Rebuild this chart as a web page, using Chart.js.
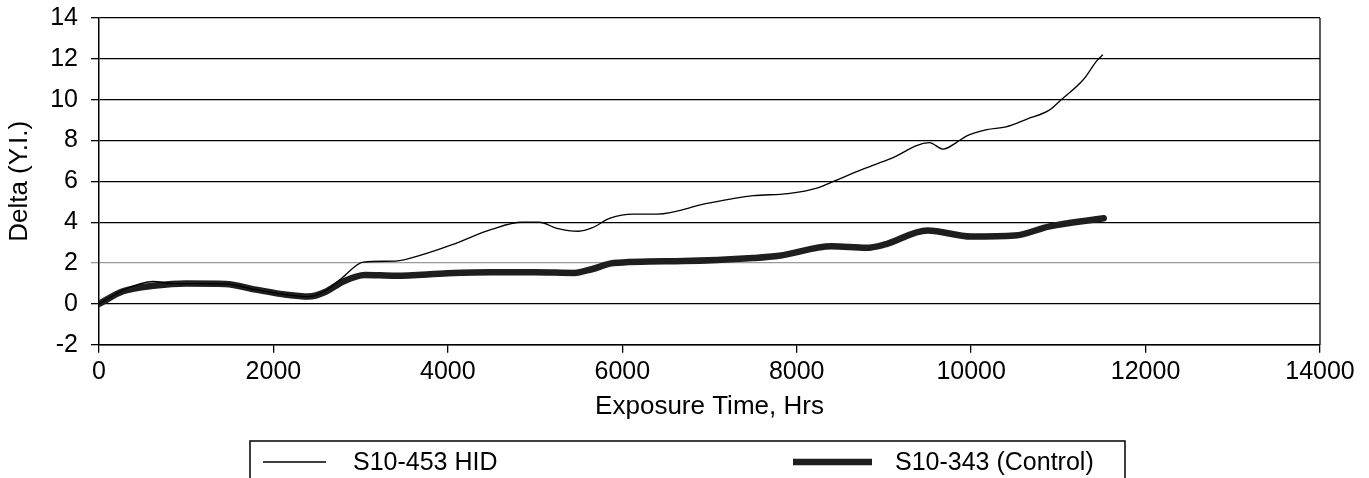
<!DOCTYPE html>
<html>
<head>
<meta charset="utf-8">
<title>Delta Y.I. vs exposure time</title>
<script src="https://cdn.jsdelivr.net/npm/chart.js@4/dist/chart.umd.min.js"></script>
<style>
  html, body { margin: 0; padding: 0; background: #fff; }
  #wrap { position: relative; width: 1369px; height: 478px; }
</style>
</head>
<body>
<div id="wrap"><canvas id="chart"></canvas></div>
<script>
// Values (hours, delta Y.I.)
const hidHours = [0, 300, 620, 850, 1100, 1450, 1800, 2150, 2400, 2600, 2780, 3030, 3400, 3700, 4050,
  4500, 4850, 5050, 5250, 5500, 5650, 5860, 6130, 6400, 6970, 7500, 7900, 8250, 8420, 8760,
  9070, 9520, 9680, 9830, 9950, 10180, 10400, 10640, 10900, 11020, 11290, 11440, 11510];
const hidDelta = [0, 0.72, 1.1, 1.0, 1.0, 0.98, 0.7, 0.45, 0.36, 0.65, 1.25, 2.05, 2.1, 2.4, 2.9,
  3.65, 4.0, 4.0, 3.7, 3.56, 3.72, 4.2, 4.4, 4.4, 4.92, 5.3, 5.4, 5.7, 6.0, 6.6,
  7.1, 7.9, 7.58, 7.9, 8.23, 8.53, 8.67, 9.05, 9.5, 9.95, 11.0, 11.9, 12.2];

const ctrlHours = [0, 275, 650, 1000, 1450, 1800, 2150, 2400, 2600, 2800, 3050, 3400, 4000, 4500,
  5000, 5450, 5650, 5900, 6700, 7500, 7800, 8400, 8800, 9000, 9500, 10000, 10500, 10900, 11520];
const ctrlDelta = [0, 0.62, 0.9, 1.0, 0.98, 0.7, 0.45, 0.36, 0.6, 1.1, 1.42, 1.38, 1.5, 1.55,
  1.55, 1.52, 1.7, 2.0, 2.1, 2.25, 2.36, 2.82, 2.75, 2.9, 3.6, 3.3, 3.35, 3.8, 4.2];

const seriesNames = ["S10-453 HID", "S10-343 (Control)"];
const xRange = [0, 14000, 2000];
const yRange = [-2, 14, 2];

const FONT = "'Liberation Sans', Arial, sans-serif";
Chart.defaults.font.family = FONT;
Chart.defaults.color = "#000";

const toPoints = (xs, ys) => xs.map((x, i) => ({ x, y: ys[i] }));

// Right-hand frame edge of the plot area.
const frame = {
  id: "frame",
  afterDraw(chart) {
    const { ctx, chartArea: a } = chart;
    ctx.save();
    ctx.strokeStyle = "#000";
    ctx.lineWidth = 1.3;
    ctx.beginPath();
    ctx.moveTo(a.right, a.top);
    ctx.lineTo(a.right, a.bottom);
    ctx.stroke();
    ctx.restore();
  },
};

// Boxed legend under the axis, cut by the bottom edge like the scan.
const boxLegend = {
  id: "boxLegend",
  afterDraw(chart) {
    const { ctx } = chart;
    const ds = chart.data.datasets;
    const top = 441, left = 250, right = 1125, midY = 462;
    const items = [
      { x0: 263, x1: 326, tx: 353 },
      { x0: 793, x1: 872, tx: 895 },
    ];
    ctx.save();
    ctx.strokeStyle = "#000";
    ctx.lineWidth = 1.5;
    ctx.beginPath();
    ctx.moveTo(left, chart.height + 2);
    ctx.lineTo(left, top);
    ctx.lineTo(right, top);
    ctx.lineTo(right, chart.height + 2);
    ctx.stroke();
    ctx.font = "25px " + FONT;
    ctx.fillStyle = "#000";
    ctx.textBaseline = "middle";
    items.forEach((it, i) => {
      ctx.strokeStyle = ds[i].borderColor;
      ctx.lineWidth = ds[i].borderWidth;
      ctx.beginPath();
      ctx.moveTo(it.x0, midY);
      ctx.lineTo(it.x1, midY);
      ctx.stroke();
      ctx.fillText(ds[i].label, it.tx, midY + 1);
    });
    ctx.restore();
  },
};

new Chart(document.getElementById("chart"), {
  type: "line",
  data: {
    datasets: [
      {
        label: seriesNames[0],
        data: toPoints(hidHours, hidDelta),
        borderColor: "#000",
        borderWidth: 1.3,
        pointRadius: 0,
        cubicInterpolationMode: "monotone",
      },
      {
        label: seriesNames[1],
        data: toPoints(ctrlHours, ctrlDelta),
        borderColor: "#1e1e1e",
        borderWidth: 6.5,
        pointRadius: 0,
        borderCapStyle: "round",
        cubicInterpolationMode: "monotone",
      },
    ],
  },
  options: {
    responsive: true,
    maintainAspectRatio: false,
    animation: false,
    layout: { padding: { top: 18, right: 49, bottom: 56, left: 0 } },
    plugins: { legend: { display: false }, tooltip: { enabled: false } },
    scales: {
      x: {
        type: "linear",
        min: xRange[0],
        max: xRange[1],
        ticks: { stepSize: xRange[2], padding: 4, font: { size: 25 }, color: "#000",
          callback: (v) => String(v) },
        grid: { drawOnChartArea: false, drawTicks: true, tickLength: 8, color: "#000", lineWidth: 1.3 },
        border: { color: "#000", width: 1.5 },
        title: { display: true, text: "Exposure Time, Hrs", font: { size: 26 }, color: "#000",
          padding: { top: 0, bottom: 0 } },
      },
      y: {
        min: yRange[0],
        max: yRange[1],
        afterFit(s) { s.width = 99; s.paddingTop = 0; s.paddingBottom = 0; },
        ticks: { stepSize: yRange[2], padding: 13, font: { size: 25 }, color: "#000",
          callback: (v) => String(v) },
        grid: {
          drawTicks: true,
          tickLength: 8,
          lineWidth: 1.3,
          color: (c) => (c.tick && c.tick.value === 2 ? "#9a9a9a" : "#000"),
        },
        border: { color: "#000", width: 1.5 },
        title: { display: true, text: "Delta (Y.I.)", font: { size: 26 }, color: "#000",
          padding: { top: 4, bottom: 0 } },
      },
    },
  },
  plugins: [frame, boxLegend],
});
</script>
</body>
</html>
